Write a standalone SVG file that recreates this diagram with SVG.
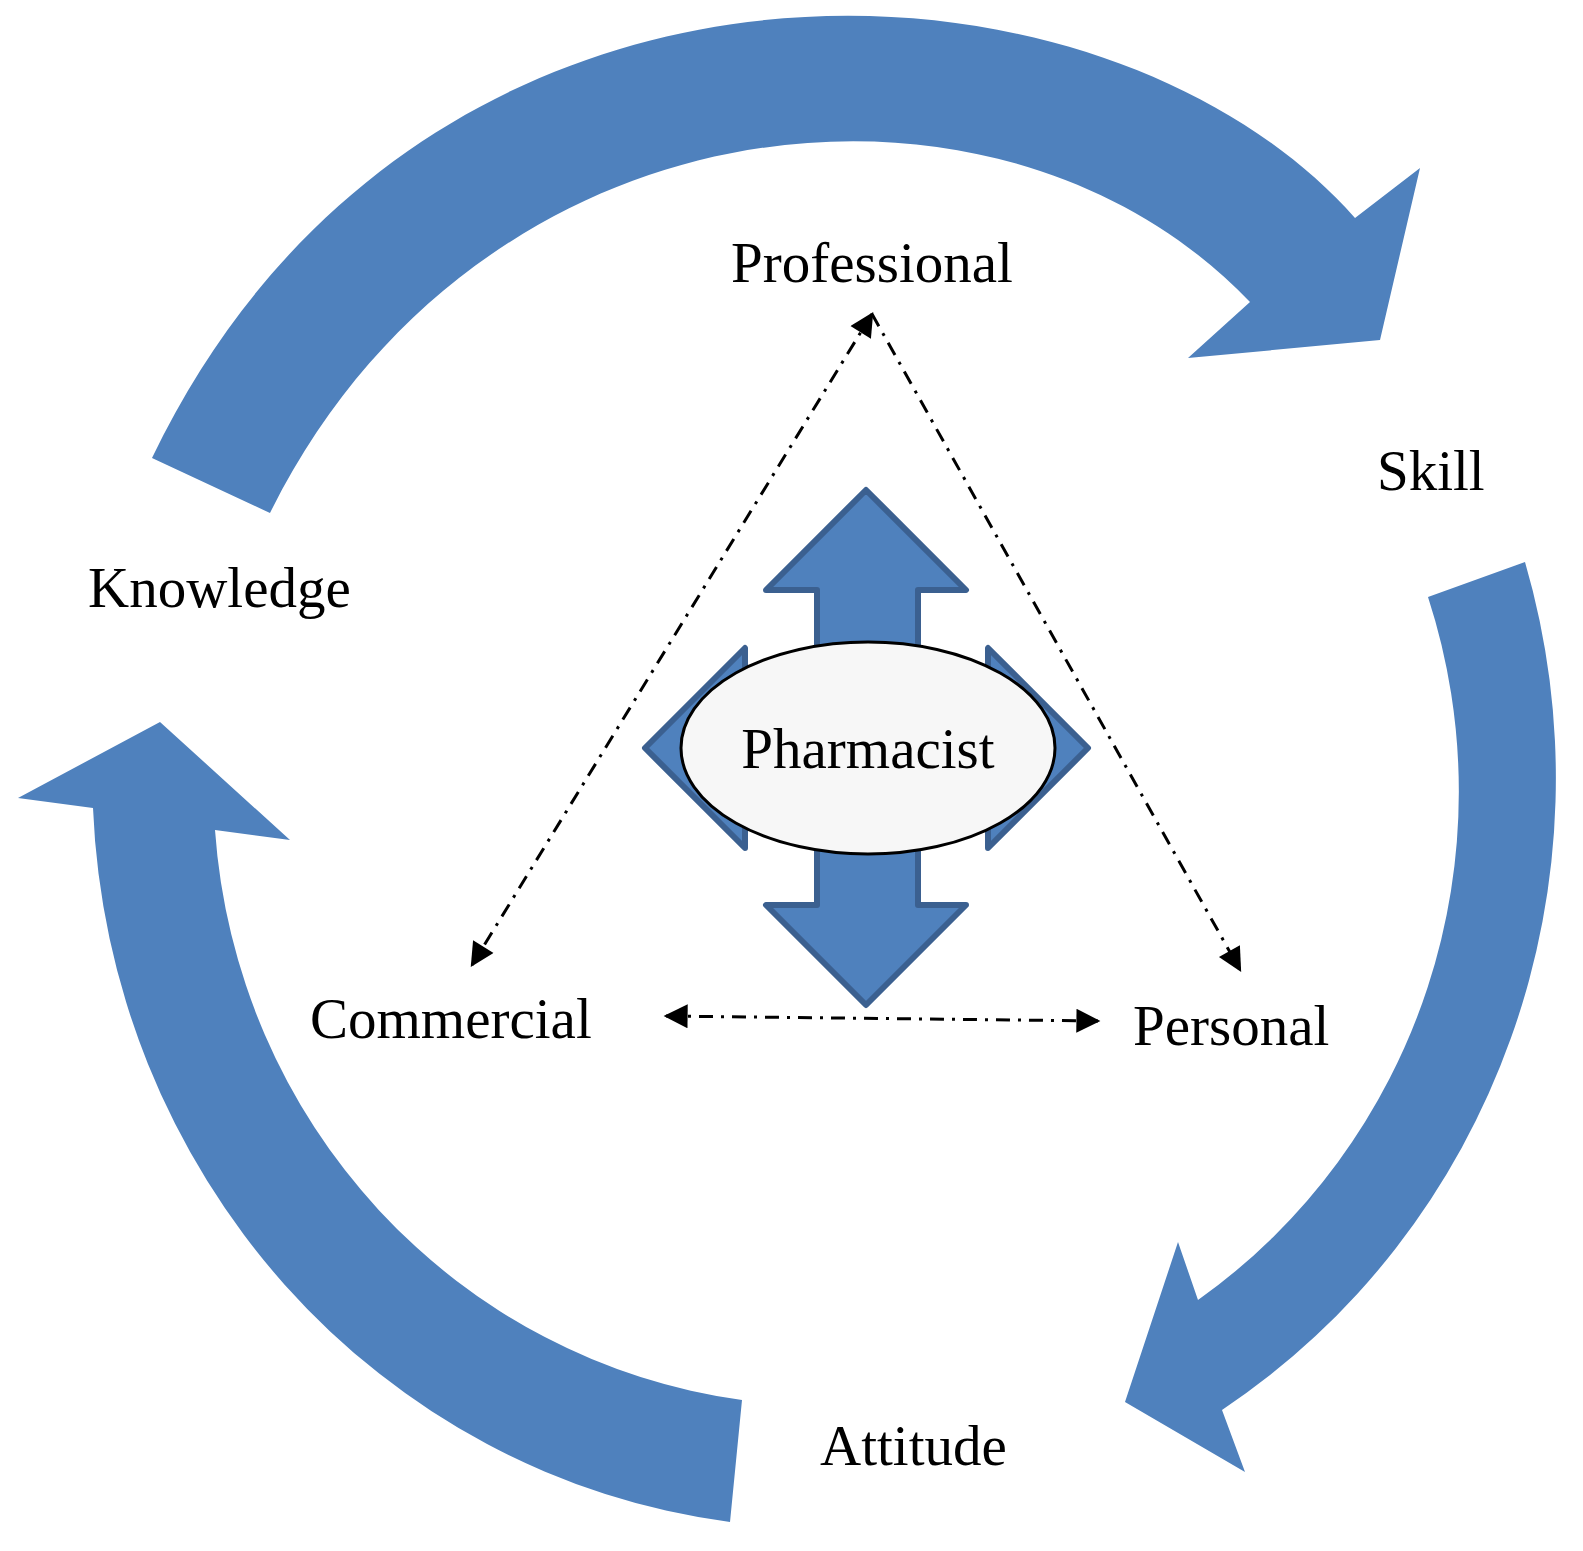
<svg xmlns="http://www.w3.org/2000/svg" width="1583" height="1551" viewBox="0 0 1583 1551">
<style>
.big{fill:#4f81bd}
.t{font-family:"Liberation Serif",serif;font-size:57px;fill:#000}
.d{stroke:#000;stroke-width:3;fill:none;stroke-dasharray:14 8 3 8}
</style>
<defs>
<marker id="ah2" viewBox="0 0 10 10" refX="9" refY="5" markerWidth="30" markerHeight="24" markerUnits="userSpaceOnUse" orient="auto-start-reverse">
<path d="M0,0 L10,5 L0,10 Z" fill="#000"/>
</marker>
</defs>
<rect width="1583" height="1551" fill="#fff"/>
<g id="cycle">
<path class="big" d="M152,458 C420,-100 1100,-70 1355,218 L1420,168 L1380,340 L1188,358 L1250,302 C1000,40 480,90 270,513 Z"/>
<path class="big" d="M1428,597 L1525,562 A730,752 0 0 1 1222,1410 L1245,1472 L1125,1402 L1178,1242 L1198,1300 A610,620 0 0 0 1428,597 Z"/>
<path class="big" d="M742,1400 L730,1522 A730,752 0 0 1 93,808 L18,798 L160,722 L290,840 L215,830 A610,620 0 0 0 742,1400 Z"/>
</g>
<g id="connectors">
<line class="d" x1="872" y1="314" x2="472" y2="965" marker-start="url(#ah2)" marker-end="url(#ah2)"/>
<line class="d" x1="872" y1="314" x2="1240" y2="970" marker-end="url(#ah2)"/>
<line class="d" x1="666" y1="1016" x2="1098" y2="1021" marker-start="url(#ah2)" marker-end="url(#ah2)"/>
</g>
<g id="center">
<path d="M866,490 L966,590 L918,590 L918,905 L966,905 L866,1005 L766,905 L817,905 L817,590 L766,590 Z" fill="#4f81bd" stroke="#3b6090" stroke-width="6" stroke-linejoin="round"/>
<path d="M645,748 L745,648 L745,848 Z M1088,748 L988,648 L988,848 Z" fill="#4f81bd" stroke="#3b6090" stroke-width="6" stroke-linejoin="round"/>
<ellipse cx="868" cy="748" rx="187" ry="106" fill="#f7f7f7" stroke="#000" stroke-width="3"/>
<text class="t" x="868" y="768" text-anchor="middle">Pharmacist</text>
</g>
<g id="labels">
<text class="t" x="872" y="282" text-anchor="middle">Professional</text>
<text class="t" x="1377" y="490">Skill</text>
<text class="t" x="88" y="607">Knowledge</text>
<text class="t" x="310" y="1038">Commercial</text>
<text class="t" x="1133" y="1045">Personal</text>
<text class="t" x="820" y="1465">Attitude</text>
</g>
</svg>
